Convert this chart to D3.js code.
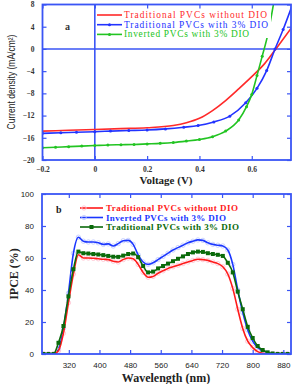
<!DOCTYPE html>
<html>
<head>
<meta charset="utf-8">
<script src="https://cdn.jsdelivr.net/npm/d3@7"></script>
<style>
	body { margin: 0; background: #fff; }
	svg { display: block; }
	.tickA { font-family: "Liberation Serif", serif; font-weight: bold; font-size: 7.5px; fill: #333; }
	.tickB { font-family: "Liberation Sans", Arial, sans-serif; font-size: 8px; fill: #222; }
</style>
</head>
<body>
<div id="chart"></div>
<script>
// ---- panel a: J-V curves ----
var redV = [-0.2, -0.1, 0, 0.1, 0.2, 0.3, 0.35, 0.4, 0.45, 0.5, 0.55, 0.6, 0.65, 0.7, 0.75];
var redJ = [-14.8, -14.65, -14.5, -14.35, -14.2, -13.8, -13.3, -12.5, -11.1, -9.3, -7.2, -5, -2.6, 0.5, 3.7];

var blueV = [-0.2, -0.13, -0.07, 0, 0.06, 0.13, 0.2, 0.27, 0.34, 0.395, 0.455, 0.516, 0.577, 0.62, 0.657, 0.689, 0.72, 0.755];
var blueJ = [-15.2, -15.1, -15.0, -14.9, -14.8, -14.7, -14.6, -14.4, -14.1, -13.8, -13.15, -12.1, -9.7, -7.1, -3.9, 0, 3.5, 7.9];

var greenV = [-0.2, -0.15, -0.1, -0.05, 0, 0.05, 0.1, 0.15, 0.2, 0.25, 0.3, 0.35, 0.4, 0.45, 0.5, 0.55, 0.58, 0.6, 0.62, 0.64, 0.66, 0.685];
var greenJ = [-17.8, -17.7, -17.6, -17.5, -17.4, -17.3, -17.25, -17.2, -17.1, -17.0, -16.85, -16.6, -16.3, -15.8, -14.8, -12.8, -10.4, -8.2, -4.8, -1.3, 2.3, 8.6];

var voltTicks = [-0.2, 0, 0.2, 0.4, 0.6];
var currTicks = [-20, -16, -12, -8, -4, 0, 4, 8];

// ---- panel b: IPCE ----
var wavelength = [254, 267, 280, 293, 306, 319, 332, 345, 358, 371, 384, 397, 410, 423, 436, 449, 462, 475, 488, 501,
	514, 527, 540, 553, 566, 579, 592, 605, 618, 631, 644, 657, 670, 683, 696, 709, 722, 735, 748, 761,
	774, 787, 800, 813, 826, 839, 852, 865, 878, 891];
var ipceNoDIO = [0, 0, 0, 2, 13, 32, 50, 62, 60, 60, 59.8, 59.5, 59.2, 59, 58, 57.5, 59, 60, 59.5, 56,
	51, 48, 48.5, 50.5, 52, 53.5, 54.5, 55.5, 56.5, 57.5, 58.5, 59.2, 59, 58.5, 57.5, 56.5, 54.5, 50, 41, 28,
	16, 8, 4, 1.5, 0.5, 0, 0, 0, 0, 0];
var ipceInverted = [0, 0, 0, 3, 16, 38, 63, 73, 70.5, 70, 70, 69.5, 68.5, 68.8, 67.5, 69, 70.8, 71, 68.5, 62,
	57.5, 56, 57, 59, 61, 63, 65, 66.5, 68, 69.5, 70.5, 71.3, 71, 69.5, 68.5, 68, 67.5, 65, 56, 40,
	26, 15, 8, 4, 2, 0.8, 0.2, 0, 0, 0];
var ipceDIO = [0, 0, 0, 7, 17.5, 36, 53, 64, 63, 62.8, 62.5, 62.2, 61.8, 61.3, 60.8, 60.7, 61.5, 62.5, 62.8, 60.5,
	55, 51, 51.5, 53.5, 55, 56.5, 58, 59.5, 61, 62.5, 63.5, 64, 63.8, 63, 62.5, 62, 61.3, 57, 51, 39,
	28, 17, 10, 5, 2.5, 1, 0.3, 0, 0, 0];
var waveTicks = [320, 400, 480, 560, 640, 720, 800, 880];
var ipceTicks = [0, 20, 40, 60, 80, 100];

var frameColor = "#3a55f5";

var svg = d3.select("#chart")
	.append("svg")
	.attr("width", 293)
	.attr("height", 384);

svg.append("rect").attr("width", 293).attr("height", 384).attr("fill", "#fff");

// ================= panel a =================
var xA = d3.scaleLinear().domain([-0.2, 0.75]).range([42.5, 291]);
var yA = d3.scaleLinear().domain([-20, 8]).range([160, 4.5]);

svg.append("clipPath").attr("id", "clipA")
	.append("rect")
	.attr("x", xA(-0.2)).attr("y", yA(8))
	.attr("width", xA(0.75) - xA(-0.2)).attr("height", yA(-20) - yA(8));

var gA = svg.append("g");

// zero lines
gA.append("line")
	.attr("x1", xA(0)).attr("x2", xA(0))
	.attr("y1", yA(8)).attr("y2", yA(-20))
	.attr("stroke", frameColor).attr("stroke-width", 1.6);
gA.append("line")
	.attr("x1", xA(-0.2)).attr("x2", xA(0.75))
	.attr("y1", yA(0)).attr("y2", yA(0))
	.attr("stroke", frameColor).attr("stroke-width", 1.6);

var jvSeries = [
	{ v: redV, j: redJ, color: "#ff2a2a", dots: false },
	{ v: blueV, j: blueJ, color: "#2233ff", dots: true },
	{ v: greenV, j: greenJ, color: "#22c422", dots: true }
];

var lineA = d3.line()
	.x(d => xA(d[0]))
	.y(d => yA(d[1]))
	.curve(d3.curveMonotoneX);

jvSeries.forEach(function(s) {
	var pts = s.v.map((v, i) => [v, s.j[i]]);
	var g = gA.append("g").attr("clip-path", "url(#clipA)");
	g.append("path")
		.datum(pts)
		.attr("d", lineA)
		.attr("fill", "none")
		.attr("stroke", s.color)
		.attr("stroke-width", 1.6);
	if (s.dots) {
		g.selectAll("circle")
			.data(pts)
			.enter()
			.append("circle")
			.attr("cx", d => xA(d[0]))
			.attr("cy", d => yA(d[1]))
			.attr("r", 1.5)
			.attr("fill", s.color);
	}
});

// legend a (white box hides lines behind)
var legA = svg.append("g");
legA.append("rect")
	.attr("x", 96).attr("y", 8)
	.attr("width", 175).attr("height", 30)
	.attr("fill", "#fff");
var legAItems = [
	{ label: "Traditional PVCs without DIO", color: "#ff2a2a", dot: false, w: 143 },
	{ label: "Traditional PVCs with 3% DIO", color: "#2233ff", dot: true, w: 144 },
	{ label: "Inverted PVCs with 3% DIO", color: "#22c422", dot: true, w: 125 }
];
legAItems.forEach(function(d, i) {
	var y = 15 + i * 9.7;
	legA.append("line")
		.attr("x1", 97).attr("x2", 122)
		.attr("y1", y).attr("y2", y)
		.attr("stroke", d.color).attr("stroke-width", 1.6);
	if (d.dot) {
		legA.append("circle").attr("cx", 109.5).attr("cy", y).attr("r", 1.5).attr("fill", d.color);
	}
	legA.append("text")
		.attr("x", 124).attr("y", y + 3)
		.attr("fill", d.color)
		.attr("textLength", d.w)
		.attr("lengthAdjust", "spacing")
		.style("font-family", "'Liberation Serif', serif")
		.style("font-size", "9.4px")
		.text(d.label);
});

svg.append("text")
	.attr("x", 65).attr("y", 30)
	.style("font-family", "'Liberation Serif', serif")
	.style("font-size", "10px")
	.style("font-weight", "bold")
	.attr("fill", "#333")
	.text("a");

// frame and ticks a
svg.append("rect")
	.attr("x", xA(-0.2)).attr("y", yA(8))
	.attr("width", xA(0.75) - xA(-0.2)).attr("height", yA(-20) - yA(8))
	.attr("fill", "none").attr("stroke", frameColor).attr("stroke-width", 1.8);

svg.append("g")
	.attr("transform", `translate(${xA(-0.2)},0)`)
	.call(d3.axisLeft(yA).tickValues(currTicks).tickSize(-4).tickPadding(8))
	.call(g => g.select(".domain").remove())
	.call(g => g.selectAll("line").attr("stroke", frameColor).attr("stroke-width", 1.2))
	.call(g => g.selectAll("text").attr("class", "tickA"));
svg.append("g")
	.attr("transform", `translate(${xA(0.75)},0)`)
	.call(d3.axisRight(yA).tickValues(currTicks).tickSize(-4).tickFormat(""))
	.call(g => g.select(".domain").remove())
	.call(g => g.selectAll("line").attr("stroke", frameColor).attr("stroke-width", 1.2));
svg.append("g")
	.attr("transform", `translate(0,${yA(-20)})`)
	.call(d3.axisBottom(xA).tickValues(voltTicks).tickSize(-4).tickPadding(7).tickFormat(d => d === 0 ? "0" : d3.format(".1f")(d)))
	.call(g => g.select(".domain").remove())
	.call(g => g.selectAll("line").attr("stroke", frameColor).attr("stroke-width", 1.2))
	.call(g => g.selectAll("text").attr("class", "tickA"));
svg.append("g")
	.attr("transform", `translate(0,${yA(8)})`)
	.call(d3.axisTop(xA).tickValues(voltTicks).tickSize(-4).tickFormat(""))
	.call(g => g.select(".domain").remove())
	.call(g => g.selectAll("line").attr("stroke", frameColor).attr("stroke-width", 1.2));

svg.append("text")
	.attr("transform", "translate(15,82) rotate(-90) scale(0.85,1)")
	.attr("text-anchor", "middle")
	.style("font-family", "'Liberation Sans', Arial, sans-serif")
	.style("font-size", "10px")
	.attr("fill", "#222")
	.text("Current density (mA/cm²)");

svg.append("text")
	.attr("x", 166).attr("y", 184)
	.attr("text-anchor", "middle")
	.style("font-family", "'Liberation Serif', serif")
	.style("font-size", "11px")
	.style("font-weight", "bold")
	.attr("fill", "#222")
	.text("Voltage (V)");

// ================= panel b =================
var xB = d3.scaleLinear().domain([250, 900]).range([42, 291]);
var yB = d3.scaleLinear().domain([0, 100]).range([354, 194]);

svg.append("clipPath").attr("id", "clipB")
	.append("rect")
	.attr("x", xB(250)).attr("y", yB(100))
	.attr("width", xB(900) - xB(250)).attr("height", yB(0) - yB(100));

var gB = svg.append("g").attr("clip-path", "url(#clipB)");

var lineB = d3.line()
	.x(d => xB(d[0]))
	.y(d => yB(d[1]))
	.curve(d3.curveMonotoneX);

var ipceSeries = [
	{ vals: ipceInverted, color: "#1a36ff", halo: "#c4cdff", marker: "circle" },
	{ vals: ipceNoDIO, color: "#ff1a1a", halo: "#ffc4d2", marker: "circle" },
	{ vals: ipceDIO, color: "#0a6a0a", halo: null, marker: "square" }
];

ipceSeries.forEach(function(s) {
	var pts = wavelength.map((w, i) => [w, s.vals[i]]);
	if (s.marker === "circle") {
		gB.append("g").selectAll("circle")
			.data(pts)
			.enter()
			.append("circle")
			.attr("cx", d => xB(d[0]))
			.attr("cy", d => yB(d[1]))
			.attr("r", 2.2)
			.attr("fill", "none")
			.attr("stroke", s.halo)
			.attr("stroke-width", 0.9);
	}
	gB.append("path")
		.datum(pts)
		.attr("d", lineB)
		.attr("fill", "none")
		.attr("stroke", s.color)
		.attr("stroke-width", 1.6);
	if (s.marker === "square") {
		gB.append("g").selectAll("rect")
			.data(pts)
			.enter()
			.append("rect")
			.attr("x", d => xB(d[0]) - 2)
			.attr("y", d => yB(d[1]) - 2)
			.attr("width", 4)
			.attr("height", 4)
			.attr("fill", s.color);
	}
});

// legend b
var legBItems = [
	{ label: "Traditional PVCs without DIO", color: "#ff1a1a", halo: "#ffc4d2", marker: "circle", w: 132 },
	{ label: "Inverted PVCs with 3% DIO", color: "#1a36ff", halo: "#c4cdff", marker: "circle", w: 120 },
	{ label: "Traditional PVCs with 3% DIO", color: "#0a6a0a", halo: null, marker: "square", w: 133 }
];
var legB = svg.append("g");
legBItems.forEach(function(d, i) {
	var y = 208 + i * 9.5;
	legB.append("line")
		.attr("x1", 80).attr("x2", 103)
		.attr("y1", y).attr("y2", y)
		.attr("stroke", d.color).attr("stroke-width", 1.6);
	if (d.marker === "circle") {
		legB.append("circle").attr("cx", 84).attr("cy", y).attr("r", 2.2)
			.attr("fill", "none").attr("stroke", d.halo).attr("stroke-width", 0.9);
	} else {
		legB.append("rect").attr("x", 89.5).attr("y", y - 2).attr("width", 4).attr("height", 4).attr("fill", d.color);
	}
	legB.append("text")
		.attr("x", 106).attr("y", y + 3)
		.attr("fill", d.color)
		.attr("textLength", d.w)
		.attr("lengthAdjust", "spacing")
		.style("font-family", "'Liberation Serif', serif")
		.style("font-size", "9px")
		.style("font-weight", "bold")
		.text(d.label);
});

svg.append("text")
	.attr("x", 56).attr("y", 213)
	.style("font-family", "'Liberation Serif', serif")
	.style("font-size", "10px")
	.style("font-weight", "bold")
	.attr("fill", "#222")
	.text("b");

// frame and ticks b
svg.append("rect")
	.attr("x", xB(250)).attr("y", yB(100))
	.attr("width", xB(900) - xB(250)).attr("height", yB(0) - yB(100))
	.attr("fill", "none").attr("stroke", frameColor).attr("stroke-width", 1.8);

svg.append("g")
	.attr("transform", `translate(${xB(250)},0)`)
	.call(d3.axisLeft(yB).tickValues(ipceTicks).tickSize(-4).tickPadding(8))
	.call(g => g.select(".domain").remove())
	.call(g => g.selectAll("line").attr("stroke", frameColor).attr("stroke-width", 1.2))
	.call(g => g.selectAll("text").attr("class", "tickB"));
svg.append("g")
	.attr("transform", `translate(${xB(900)},0)`)
	.call(d3.axisRight(yB).tickValues(ipceTicks).tickSize(-4).tickFormat(""))
	.call(g => g.select(".domain").remove())
	.call(g => g.selectAll("line").attr("stroke", frameColor).attr("stroke-width", 1.2));
svg.append("g")
	.attr("transform", `translate(0,${yB(0)})`)
	.call(d3.axisBottom(xB).tickValues(waveTicks).tickSize(-4).tickPadding(8))
	.call(g => g.select(".domain").remove())
	.call(g => g.selectAll("line").attr("stroke", frameColor).attr("stroke-width", 1.2))
	.call(g => g.selectAll("text").attr("class", "tickB"));
svg.append("g")
	.attr("transform", `translate(0,${yB(100)})`)
	.call(d3.axisTop(xB).tickValues(waveTicks).tickSize(-4).tickFormat(""))
	.call(g => g.select(".domain").remove())
	.call(g => g.selectAll("line").attr("stroke", frameColor).attr("stroke-width", 1.2));

svg.append("text")
	.attr("transform", "translate(18,274) rotate(-90)")
	.attr("text-anchor", "middle")
	.style("font-family", "'Liberation Serif', serif")
	.style("font-size", "12px")
	.style("font-weight", "bold")
	.attr("fill", "#222")
	.text("IPCE (%)");

svg.append("text")
	.attr("x", 166).attr("y", 382)
	.attr("text-anchor", "middle")
	.style("font-family", "'Liberation Serif', serif")
	.style("font-size", "12px")
	.style("font-weight", "bold")
	.attr("fill", "#222")
	.text("Wavelength (nm)");
</script>
</body>
</html>
